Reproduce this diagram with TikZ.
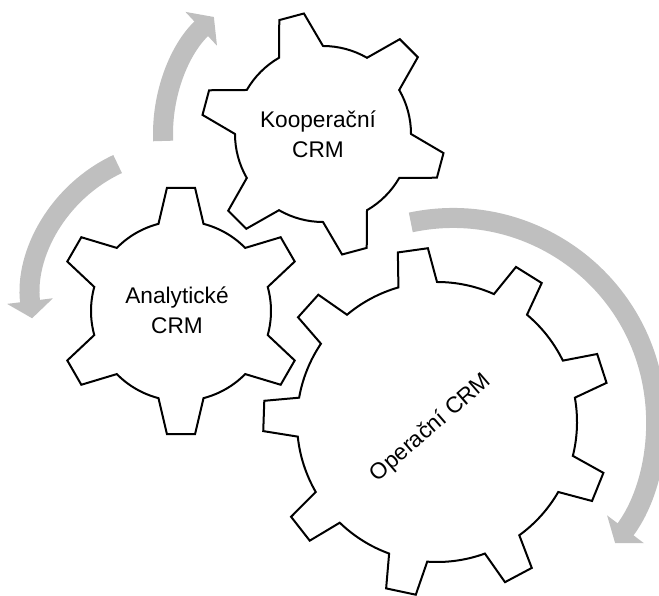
\documentclass[tikz,border=0pt]{standalone}
\usepackage{fontspec}
\setmainfont{Liberation Sans}
\usepackage{tikz}
\usetikzlibrary{arrows.meta}
% gear outline: centre, teeth, first tooth angle, tip radius, root radius, half tip angle, half base angle
\newcommand{\gearoutline}[7]{%
  \begin{scope}[shift={(#1)}]
    \draw[gearline] ({#3-#7}:#5)
      \foreach \k in {1,...,#2} {
        -- ({#3+(\k-1)*360/#2-#6}:#4) -- ({#3+(\k-1)*360/#2+#6}:#4)
        -- ({#3+(\k-1)*360/#2+#7}:#5)
        arc[start angle={#3+(\k-1)*360/#2+#7}, end angle={#3+\k*360/#2-#7}, radius=#5]
      } -- cycle;
  \end{scope}}

\begin{document}
\begin{tikzpicture}[x=0.75pt, y=0.75pt,
    gearline/.style={draw=black, line width=1.5pt, line join=miter},
    gearname/.style={align=center, inner sep=0pt, font=\fontsize{17}{22.5}\selectfont},
    cyclearrow/.style={draw=black!25, line width=15pt, -{Triangle[length=13pt, width=34pt]}}]
    \useasboundingbox (0,0) rectangle (659,595);

    \coordinate (kc) at (323,461);
    \coordinate (ac) at (181,284);
    \coordinate (oc) at (437,173);
    \coordinate (arcA) at (181,295);
    \coordinate (arcO) at (453,174);

    % arrows round the gears
    \draw[cyclearrow] ([shift={(182.5:160)}]kc) arc[start angle=182.5, end angle=133, radius=160];
    \draw[cyclearrow] ([shift={(115:150)}]arcA) arc[start angle=115, end angle=187, radius=150];
    \draw[cyclearrow] ([shift={(102:203)}]arcO) arc[start angle=102, end angle=-37, radius=203];

    % gears
    \gearoutline{kc}{6}{45}{122}{88}{6}{15}
    \gearoutline{ac}{6}{30}{124}{90}{6.5}{14.5}
    \gearoutline{oc}{9}{18}{174}{140}{5}{8}

    \node[gearname] (koop) at (318,461) {Kooperační\\CRM};
    \node[gearname] (anal) at (177,285) {Analytické\\CRM};
    \node[gearname, rotate=41] (oper) at (431,167) {Operační CRM};
\end{tikzpicture}
\end{document}
